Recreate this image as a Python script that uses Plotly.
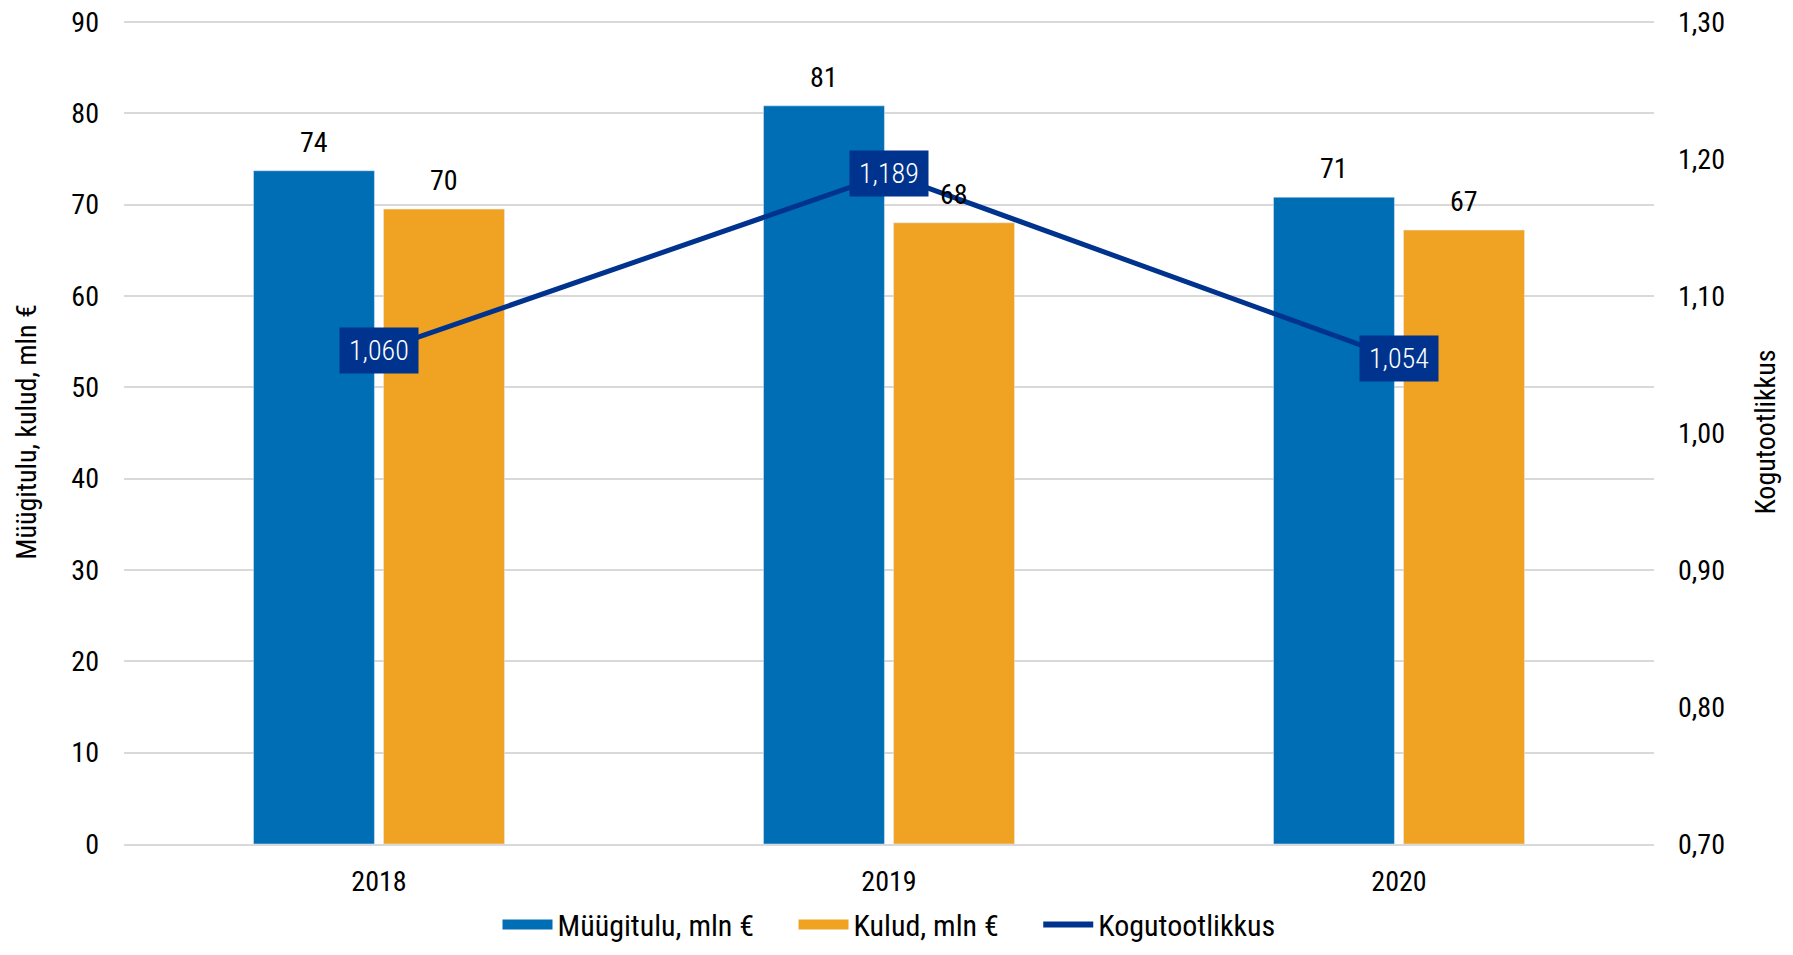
import plotly.graph_objects as go

years = ["2018", "2019", "2020"]
revenue = [73.7, 80.8, 70.8]          # Müügitulu, mln €
costs = [69.5, 68.0, 67.2]            # Kulud, mln €
productivity = [1.060, 1.189, 1.054]  # Kogutootlikkus

left_ticks = list(range(0, 91, 10))
right_ticks = [0.70, 0.80, 0.90, 1.00, 1.10, 1.20, 1.30]
right_labels = [f"{v:.2f}".replace(".", ",") for v in right_ticks]

FONT = "Roboto Condensed, Roboto, sans-serif"
FS = 28
BLUE = "#006EB5"
ORANGE = "#F0A323"
NAVY = "#00338D"
GRID = "#D9D9D9"
BARGAP = 0.49
NBSP = "\u00a0"

fig = go.Figure()
fig.add_trace(go.Bar(x=years, y=revenue, name="Müügitulu, mln €",
                     marker_color=BLUE, showlegend=False))
fig.add_trace(go.Bar(x=years, y=costs, name="Kulud, mln €",
                     marker_color=ORANGE, showlegend=False))
fig.add_trace(go.Scatter(
    x=years, y=productivity, name="Kogutootlikkus", yaxis="y2",
    mode="lines", line=dict(color=NAVY, width=5), showlegend=False,
))

# legend entries (wide swatches like the reference)
for name, color, w in [("Müügitulu, mln €" + NBSP * 5, BLUE, 16),
                       ("Kulud, mln €" + NBSP * 5, ORANGE, 16),
                       ("Kogutootlikkus", NAVY, 6)]:
    fig.add_trace(go.Scatter(x=[None], y=[None], mode="lines", name=name,
                             line=dict(color=color, width=w), showlegend=True))

# bar value labels, placed at the centre of each bar slot in the group
slot = (1 - BARGAP) / 4
for series, sign in [(revenue, -1), (costs, 1)]:
    for i, v in enumerate(series):
        fig.add_annotation(
            x=i + sign * slot, y=v, xref="x", yref="y", showarrow=False,
            text=f"{v:.0f}", yanchor="bottom", yshift=10,
            font=dict(size=FS, color="#000000", family=FONT),
        )

# productivity labels in dark boxes
for i, yv in enumerate(productivity):
    fig.add_annotation(
        x=i, y=yv, xref="x", yref="y2", showarrow=False,
        text="\u200a" + f"{yv:.3f}".replace(".", ",") + "\u200a",
        font=dict(size=FS, color="#FFFFFF", family=FONT, weight=300),
        bgcolor=NAVY, borderpad=6,
    )

fig.update_layout(
    width=1793, height=955,
    margin=dict(l=116, r=147, t=12, b=119),
    paper_bgcolor="white", plot_bgcolor="white",
    font=dict(family=FONT, size=FS, color="#000000"),
    barmode="group", bargap=BARGAP, bargroupgap=0.07,
    showlegend=True,
    legend=dict(orientation="h", x=0.5, xanchor="center", y=-0.066, yanchor="top",
                font=dict(size=30, family=FONT), traceorder="normal",
                itemwidth=50, tracegroupgap=0),
    xaxis=dict(type="category", range=[-0.5, 2.5], showgrid=False, ticks="", showline=True,
               linecolor=GRID, linewidth=1.5, tickfont=dict(size=FS), ticklabelstandoff=12,
               automargin=False),
    yaxis=dict(range=[0, 90.2], tickvals=left_ticks, showgrid=True, gridcolor=GRID,
               gridwidth=1.5, zeroline=False, ticks="", ticklabelstandoff=24,
               ticklabeloverflow="allow",
               title=dict(text="Müügitulu, kulud, mln €", font=dict(size=FS), standoff=26),
               tickfont=dict(size=FS), automargin=False),
    yaxis2=dict(range=[0.70, 1.30 + 0.2 * 0.6 / 90], tickvals=right_ticks, ticktext=right_labels,
                overlaying="y", side="right", showgrid=False, zeroline=False, ticks="",
                ticklabelstandoff=23, ticklabeloverflow="allow",
                title=dict(text="Kogutootlikkus", font=dict(size=FS), standoff=31),
                tickfont=dict(size=FS), automargin=False),
)

fig.write_html("out.html")
